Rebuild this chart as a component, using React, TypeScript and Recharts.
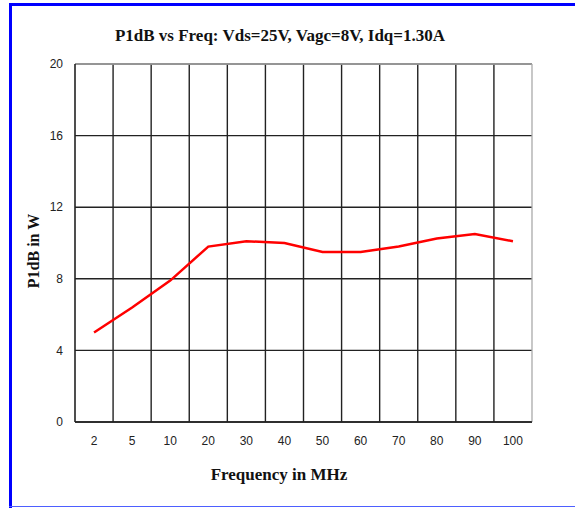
import React from "react";
import { LineChart, Line, XAxis, YAxis, CartesianGrid, ReferenceLine } from "recharts";

const freqLabels = ["2", "5", "10", "20", "30", "40", "50", "60", "70", "80", "90", "100"];
const p1dbValues = [5.0, 6.4, 7.9, 9.8, 10.1, 10.0, 9.5, 9.5, 9.8, 10.25, 10.5, 10.1];
const yTicks = [0, 4, 8, 12, 16, 20];
const bandEdges = [0.5, 1.5, 2.5, 3.5, 4.5, 5.5, 6.5, 7.5, 8.5, 9.5, 10.5];

const data = freqLabels.map((f, i) => ({ i, freq: f, p1db: p1dbValues[i] }));

const serif = "'Liberation Serif', 'Times New Roman', serif";
const sans = "'Liberation Sans', Arial, sans-serif";

export default function App() {
  return (
    <div style={{ position: "absolute", left: 0, top: 0, width: 575, height: 508, background: "#fff", overflow: "hidden" }}>
      <LineChart
        width={575}
        height={508}
        data={data}
        margin={{ top: 64, right: 43, bottom: 56, left: 30 }}
      >
        <CartesianGrid vertical={false} stroke="#222" strokeWidth={1.4} />
        <XAxis
          type="number"
          dataKey="i"
          domain={[-0.5, 11.5]}
          ticks={data.map((d) => d.i)}
          tickFormatter={(v) => freqLabels[v]}
          tickLine={false}
          tickMargin={8}
          axisLine={{ stroke: "#222", strokeWidth: 1.6 }}
          tick={{ fill: "#222", fontSize: 12, fontFamily: sans }}
          height={30}
          interval={0}
        />
        <YAxis
          type="number"
          domain={[0, 20]}
          ticks={yTicks}
          tickLine={false}
          tickMargin={6}
          axisLine={{ stroke: "#222", strokeWidth: 1.6 }}
          tick={{ fill: "#222", fontSize: 12, fontFamily: sans }}
          width={45}
        />
        {bandEdges.map((x) => (
          <ReferenceLine key={x} x={x} stroke="#222" strokeWidth={1.4} ifOverflow="extendDomain" />
        ))}
        <ReferenceLine y={20} stroke="#aaa" strokeWidth={1.3} />
        <ReferenceLine x={11.5} stroke="#aaa" strokeWidth={1.3} />
        <Line
          type="linear"
          dataKey="p1db"
          stroke="#ff0000"
          strokeWidth={2.5}
          dot={false}
          isAnimationActive={false}
        />
      </LineChart>

      <div style={{ position: "absolute", left: 0, width: 560, top: 26, textAlign: "center", fontFamily: serif, fontWeight: "bold", fontSize: 17, color: "#111", whiteSpace: "nowrap" }}>
        P1dB vs Freq: Vds=25V, Vagc=8V, Idq=1.30A
      </div>
      <div style={{ position: "absolute", left: 0, width: 558, top: 465, textAlign: "center", fontFamily: serif, fontWeight: "bold", fontSize: 17, color: "#111", whiteSpace: "nowrap" }}>
        Frequency in MHz
      </div>
      <div style={{ position: "absolute", left: 34, top: 251, width: 0, height: 0 }}>
        <div style={{ position: "absolute", transform: "translate(-50%, -50%) rotate(-90deg)", fontFamily: serif, fontWeight: "bold", fontSize: 16, color: "#111", whiteSpace: "nowrap" }}>
          P1dB in W
        </div>
      </div>

      <div style={{ position: "absolute", left: 9, top: 3, width: 566, height: 3, background: "#0000ff" }} />
      <div style={{ position: "absolute", left: 9, top: 3, width: 3, height: 505, background: "#0000ff" }} />
      <div style={{ position: "absolute", left: 9, top: 506, width: 566, height: 1, background: "#4d5fff" }} />
    </div>
  );
}
